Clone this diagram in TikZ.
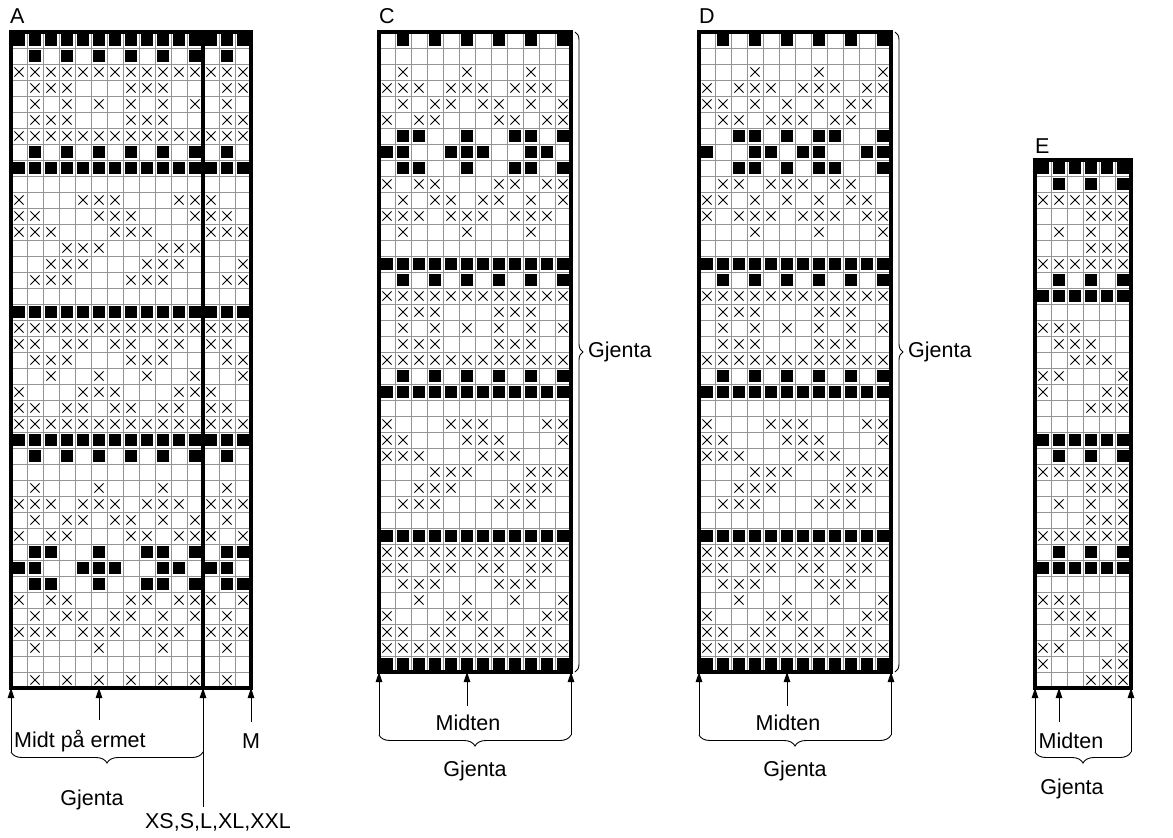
\documentclass[tikz,border=0pt]{standalone}
\usepackage{fontspec}
\setmainfont{Liberation Sans}
\usetikzlibrary{decorations.pathreplacing,arrows.meta}
\tikzset{
 gridline/.style={draw=black!42, line width=1pt},
 frame/.style={draw=black, line width=3.3pt},
 xl/.style={draw=black, line width=0.9pt},
 lbl/.style={font=\fontsize{21.5}{25}\selectfont, inner sep=0pt},
 up/.style={-{Triangle[length=10pt,width=6.5pt]}, line width=0.9pt},
 brc/.style={decorate, decoration={brace, amplitude=11pt}, line width=0.9pt},
 brcm/.style={decorate, decoration={brace, mirror, amplitude=11pt}, line width=0.9pt},
}
\newcommand\chartgrid[4]{%
 \foreach \i in {0,...,#3}{\draw[gridline] (#1+16*\i,#2) -- (#1+16*\i,#2+16*#4);}
 \foreach \j in {0,...,#4}{\draw[gridline] (#1,#2+16*\j) -- (#1+16*#3,#2+16*\j);}}
\newcommand\xr[4]{\foreach \c in {#4}{\pgfmathsetmacro\px{#1+16*\c-8}\pgfmathsetmacro\py{#2+16*#3-8}%
 \draw[xl] (\px-4.6,\py-4.6) -- (\px+4.6,\py+4.6) (\px-4.6,\py+4.6) -- (\px+4.6,\py-4.6);}}
\newcommand\br[4]{\foreach \c in {#4}{\pgfmathsetmacro\px{#1+16*\c-8}\pgfmathsetmacro\py{#2+16*#3-8}%
 \fill[black] (\px-6,\py-6) rectangle (\px+6,\py+6);}}
\newcommand\Ax[2]{\xr{11}{32}{#1}{#2}}
\newcommand\Ab[2]{\br{11}{32}{#1}{#2}}
\newcommand\Ex[2]{\xr{1035}{160}{#1}{#2}}
\newcommand\Eb[2]{\br{1035}{160}{#1}{#2}}
\newcommand\CDcommon[1]{%
 \br{#1}{32}{1}{2,4,...,12}
 \br{#1}{32}{15}{1,...,12}
 \br{#1}{32}{16}{2,4,...,12}
 \xr{#1}{32}{17}{1,...,12}
 \xr{#1}{32}{18}{2,3,4,8,9,10}
 \xr{#1}{32}{19}{2,4,...,12}
 \xr{#1}{32}{20}{2,3,4,8,9,10}
 \xr{#1}{32}{21}{1,...,12}
 \br{#1}{32}{22}{2,4,...,12}
 \br{#1}{32}{23}{1,...,12}
 \xr{#1}{32}{25}{1,5,6,7,11,12}
 \xr{#1}{32}{26}{1,2,6,7,8,12}
 \xr{#1}{32}{27}{1,2,3,7,8,9}
 \xr{#1}{32}{28}{4,5,6,10,11,12}
 \xr{#1}{32}{29}{3,4,5,9,10,11}
 \xr{#1}{32}{30}{2,3,4,8,9,10}
 \br{#1}{32}{32}{1,...,12}
 \xr{#1}{32}{33}{1,...,12}
 \xr{#1}{32}{34}{1,2,4,5,7,8,10,11}
 \xr{#1}{32}{35}{2,3,4,8,9,10}
 \xr{#1}{32}{36}{3,6,9,12}
 \xr{#1}{32}{37}{1,5,6,7,11,12}
 \xr{#1}{32}{38}{1,2,4,5,7,8,10,11}
 \xr{#1}{32}{39}{1,...,12}
 \br{#1}{32}{40}{1,...,12}}
\begin{document}
\begin{tikzpicture}[x=1pt,y=-1pt]
\fill[white] (0,0) rectangle (1173,838);
\useasboundingbox (0,0) rectangle (1173,838);

% ---------- Chart A ----------
\chartgrid{11}{32}{15}{41}
\Ab{1}{1,...,15}
\Ab{2}{2,4,...,14}
\Ax{3}{1,...,15}
\Ax{4}{2,3,4,8,9,10,14,15}
\Ax{5}{2,4,...,14}
\Ax{6}{2,3,4,8,9,10,14,15}
\Ax{7}{1,...,15}
\Ab{8}{2,4,...,14}
\Ab{9}{1,...,15}
\Ax{11}{1,5,6,7,11,12,13}
\Ax{12}{1,2,6,7,8,12,13,14}
\Ax{13}{1,2,3,7,8,9,13,14,15}
\Ax{14}{4,5,6,10,11,12}
\Ax{15}{3,4,5,9,10,11,15}
\Ax{16}{2,3,4,8,9,10,14,15}
\Ab{18}{1,...,15}
\Ax{19}{1,...,15}
\Ax{20}{1,2,4,5,7,8,10,11,13,14}
\Ax{21}{2,3,4,8,9,10,14,15}
\Ax{22}{3,6,9,12,15}
\Ax{23}{1,5,6,7,11,12,13}
\Ax{24}{1,2,4,5,7,8,10,11,13,14}
\Ax{25}{1,...,15}
\Ab{26}{1,...,15}
\Ab{27}{2,4,...,14}
\Ax{29}{2,6,10,14}
\Ax{30}{1,2,3,5,6,7,9,10,11,13,14,15}
\Ax{31}{2,4,5,7,8,10,12,14}
\Ax{32}{1,3,4,8,9,11,12,13,15}
\Ab{33}{2,3,6,9,10,12,14,15}
\Ab{34}{1,2,5,6,7,10,11,13,14}
\Ab{35}{2,3,6,9,10,12,14,15}
\Ax{36}{1,3,4,8,9,11,12,13,15}
\Ax{37}{2,4,5,7,8,10,12,14}
\Ax{38}{1,2,3,5,6,7,9,10,11,13,14,15}
\Ax{39}{2,6,10,14}
\Ax{41}{2,4,...,14}
\draw[frame] (11,32) rectangle (251,688);
\draw[frame] (203,32) -- (203,688);

% ---------- Chart C ----------
\chartgrid{379}{32}{12}{40}
\CDcommon{379}
\xr{379}{32}{3}{2,6,10}
\xr{379}{32}{4}{1,2,3,5,6,7,9,10,11}
\xr{379}{32}{5}{2,4,5,7,8,10,12}
\xr{379}{32}{6}{1,3,4,8,9,11,12}
\br{379}{32}{7}{2,3,6,9,10,12}
\br{379}{32}{8}{1,2,5,6,7,10,11}
\br{379}{32}{9}{2,3,6,9,10,12}
\xr{379}{32}{10}{1,3,4,8,9,11,12}
\xr{379}{32}{11}{2,4,5,7,8,10,12}
\xr{379}{32}{12}{1,2,3,5,6,7,9,10,11}
\xr{379}{32}{13}{2,6,10}
\draw[frame] (379,32) rectangle (571,672);

% ---------- Chart D ----------
\chartgrid{699}{32}{12}{40}
\CDcommon{699}
\xr{699}{32}{3}{4,8,12}
\xr{699}{32}{4}{1,3,4,5,7,8,9,11,12}
\xr{699}{32}{5}{1,2,4,6,8,10,11}
\xr{699}{32}{6}{2,3,5,6,7,9,10}
\br{699}{32}{7}{3,4,6,8,9,12}
\br{699}{32}{8}{1,4,5,7,8,11,12}
\br{699}{32}{9}{3,4,6,8,9,12}
\xr{699}{32}{10}{2,3,5,6,7,9,10}
\xr{699}{32}{11}{1,2,4,6,8,10,11}
\xr{699}{32}{12}{1,3,4,5,7,8,9,11,12}
\xr{699}{32}{13}{4,8,12}
\draw[frame] (699,32) rectangle (891,672);

% ---------- Chart E ----------
\chartgrid{1035}{160}{6}{33}
\Eb{1}{1,...,6}
\Eb{2}{2,4,6}
\Ex{3}{1,...,6}
\Ex{4}{4,5,6}
\Ex{5}{2,4,6}
\Ex{6}{4,5,6}
\Ex{7}{1,...,6}
\Eb{8}{2,4,6}
\Eb{9}{1,...,6}
\Ex{11}{1,2,3}
\Ex{12}{2,3,4}
\Ex{13}{3,4,5}
\Ex{14}{1,2,6}
\Ex{15}{1,5,6}
\Ex{16}{4,5,6}
\Eb{18}{1,...,6}
\Eb{19}{2,4,6}
\Ex{20}{1,...,6}
\Ex{21}{4,5,6}
\Ex{22}{2,4,6}
\Ex{23}{4,5,6}
\Ex{24}{1,...,6}
\Eb{25}{2,4,6}
\Eb{26}{1,...,6}
\Ex{28}{1,2,3}
\Ex{29}{2,3,4}
\Ex{30}{3,4,5}
\Ex{31}{1,2,6}
\Ex{32}{1,5,6}
\Ex{33}{4,5,6}
\draw[frame] (1035,160) rectangle (1131,688);

% ---------- chart letters ----------
\node[lbl, anchor=south west] (labA) at (10,24) {A};
\node[lbl, anchor=south west] (labC) at (379,24) {C};
\node[lbl, anchor=south west] (labD) at (699,24) {D};
\node[lbl, anchor=south west] (labE) at (1035,154) {E};

% ---------- A annotations ----------
\coordinate (aL) at (11,688);
\coordinate (aM) at (99,688);
\coordinate (aD) at (203,688);
\coordinate (aR) at (251,688);
\coordinate (aLb) at (11,752);
\coordinate (aDb) at (203,752);
\coordinate (aMb) at (99,720);
\coordinate (aRb) at (251,722);
\node[lbl, anchor=west] (midtA) at (14,741) {Midt på ermet};
\node[lbl] (mA) at (251,741) {M};
\node[lbl] (gjA) at (92,800) {Gjenta};
\node[lbl] (sizeA) at (218,822) {XS,S,L,XL,XXL};
\draw[up] (aLb) -- (aL);
\draw[up] (aMb) -- (aM);
\draw[up] (sizeA.north -| aD) ++(0,-6) -- (aD);
\draw[up] (aRb) -- (aR);
\draw[brcm] (aLb) -- (aDb);

% ---------- C annotations ----------
\coordinate (cL) at (379,672);
\coordinate (cM) at (467,672);
\coordinate (cR) at (571,672);
\coordinate (cLb) at (379,735);
\coordinate (cRb) at (571,735);
\coordinate (cMb) at (467,706);
\coordinate (cT) at (575,32);
\coordinate (cB) at (575,672);
\node[lbl] (midC) at (468,723) {Midten};
\node[lbl] (gjC) at (475,771) {Gjenta};
\node[lbl, anchor=west] (gjCr) at (588,352) {Gjenta};
\draw[up] (cLb) -- (cL);
\draw[up] (cMb) -- (cM);
\draw[up] (cRb) -- (cR);
\draw[brcm] (cLb) -- (cRb);
\draw[decorate, decoration={brace, amplitude=8pt}, line width=0.9pt] (cT) -- (cB);

% ---------- D annotations ----------
\coordinate (dL) at (699,672);
\coordinate (dM) at (787,672);
\coordinate (dR) at (891,672);
\coordinate (dLb) at (699,735);
\coordinate (dRb) at (891,735);
\coordinate (dMb) at (787,706);
\coordinate (dT) at (895,32);
\coordinate (dB) at (895,672);
\node[lbl] (midD) at (788,723) {Midten};
\node[lbl] (gjD) at (795,771) {Gjenta};
\node[lbl, anchor=west] (gjDr) at (908,352) {Gjenta};
\draw[up] (dLb) -- (dL);
\draw[up] (dMb) -- (dM);
\draw[up] (dRb) -- (dR);
\draw[brcm] (dLb) -- (dRb);
\draw[decorate, decoration={brace, amplitude=8pt}, line width=0.9pt] (dT) -- (dB);

% ---------- E annotations ----------
\coordinate (eL) at (1035,688);
\coordinate (eM) at (1059,688);
\coordinate (eR) at (1131,688);
\coordinate (eLb) at (1035,752);
\coordinate (eRb) at (1131,752);
\coordinate (eMb) at (1059,722);
\node[lbl] (midE) at (1071,741) {Midten};
\node[lbl] (gjE) at (1072,789) {Gjenta};
\draw[up] (eLb) -- (eL);
\draw[up] (eMb) -- (eM);
\draw[up] (eRb) -- (eR);
\draw[brcm] (eLb) -- (eRb);
\end{tikzpicture}
\end{document}
